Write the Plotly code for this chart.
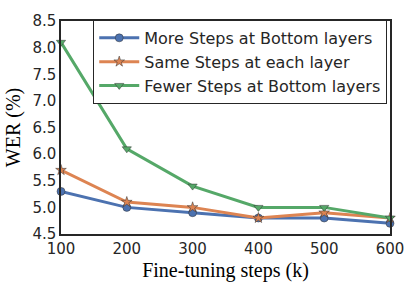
import plotly.graph_objects as go

steps = [100, 200, 300, 400, 500, 600]
more_bottom = [5.3, 5.0, 4.9, 4.8, 4.8, 4.7]
same_each = [5.7, 5.1, 5.0, 4.8, 4.9, 4.8]
fewer_bottom = [8.1, 6.1, 5.4, 5.0, 5.0, 4.8]
y_ticks = [4.5, 5.0, 5.5, 6.0, 6.5, 7.0, 7.5, 8.0, 8.5]
x_ticks = [100, 200, 300, 400, 500, 600]

series = [
    ("More Steps at Bottom layers", more_bottom, "#4C72B0", "circle"),
    ("Same Steps at each layer", same_each, "#DD8452", "star"),
    ("Fewer Steps at Bottom layers", fewer_bottom, "#55A868", "triangle-down"),
]

fig = go.Figure()
for name, vals, color, sym in series:
    fig.add_trace(go.Scatter(
        x=steps, y=vals, name=name, mode="lines+markers",
        line=dict(color=color, width=3),
        marker=dict(symbol=sym, size=8, color=color,
                    line=dict(color="#333333", width=0.5)),
        cliponaxis=False,
    ))

axis_common = dict(
    showgrid=False, zeroline=False, showline=True, linecolor="#262626",
    linewidth=1.5, mirror=True, ticks="",
    tickfont=dict(family="DejaVu Sans", size=15, color="#262626"),
)

fig.update_layout(
    width=416, height=290,
    margin=dict(l=61, r=20, t=14, b=53),
    plot_bgcolor="white", paper_bgcolor="white",
    xaxis=dict(range=[100, 600], tickvals=x_ticks,
               title=dict(text="Fine-tuning steps (k)", standoff=6,
                          font=dict(family="Liberation Serif", size=20, color="black")),
               **axis_common),
    yaxis=dict(range=[4.5, 8.5], tickvals=y_ticks, tickformat=".1f",
               title=dict(text="WER (%)", standoff=6,
                          font=dict(family="Liberation Serif", size=20, color="black")),
               **axis_common),
    legend=dict(x=0.098, y=1.005, xanchor="left", yanchor="top",
                bordercolor="#262626", borderwidth=1, bgcolor="white",
                font=dict(family="DejaVu Sans", size=16, color="#262626"),
                itemwidth=40, tracegroupgap=0),
    showlegend=True,
)

fig.write_html("out.html", config={"displayModeBar": False},
               post_script="document.body.style.margin='0';")
